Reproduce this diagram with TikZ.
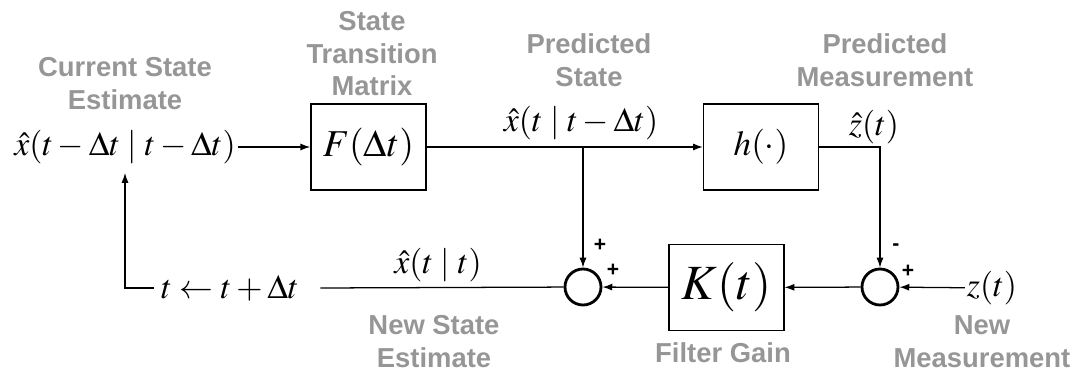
\documentclass[tikz,border=0pt]{standalone}
\usepackage{mathptmx}
\usepackage[no-math]{fontspec}
\newfontfamily\lblfont{Liberation Sans}
\usetikzlibrary{arrows.meta,positioning}
\definecolor{lblgray}{RGB}{150,150,150}

\begin{document}
\begin{tikzpicture}[
    >={Latex[length=7pt,width=5pt]},
    lbl/.style={text=lblgray, font=\lblfont\bfseries\fontsize{19.5}{23.4}\selectfont, align=center, inner sep=0pt},
    sig/.style={font=\fontsize{24}{26}\selectfont, inner sep=1pt},
    blk/.style={draw, line width=0.9pt, minimum width=2.875cm, minimum height=2.15cm},
    sumpt/.style={draw, circle, line width=2pt, minimum size=0.9cm, inner sep=0pt},
    sgn/.style={font=\lblfont\bfseries\fontsize{15}{15}\selectfont, inner sep=0pt},
    line width=0.9pt]
  \useasboundingbox (0,0) rectangle (27.15,9.5);

  % Top row: estimate, F, h
  \node[sig] (cur) at (3.125, 5.825) {$\hat{x}(t-\Delta t\mid t-\Delta t)$};
  \node[lbl] (curlbl) at (3.125, 7.41) {Current State\\Estimate};
  \node[blk, font=\fontsize{27}{30}\selectfont] (fbox) at (9.21, 5.825) {$F(\Delta t)$};
  \node[lbl] (flbl) at (9.3, 8.16) {State\\Transition\\Matrix};
  \node[blk, font=\fontsize{25}{28}\selectfont] (hbox) at (19.025, 5.825) {$h(\cdot)$};
  \node[sig] (pred) at (14.525, 6.425) {$\hat{x}(t\mid t-\Delta t)$};
  \node[lbl] (predlbl) at (14.725, 7.99) {Predicted\\State};
  \node[sig] (zhat) at (21.85, 6.325) {$\hat{z}(t)$};
  \node[lbl] (zhatlbl) at (22.125, 7.99) {Predicted\\Measurement};

  % Bottom row: update, sums, gain, measurement
  \node[sumpt] (sum1) at (14.575, 2.325) {};
  \node[sumpt] (sum2) at (22.0, 2.325) {};
  \node[blk, font=\fontsize{35}{38}\selectfont] (kbox) at (18.16, 2.31) {$K(t)$};
  \node[lbl] (klbl) at (18.075, 0.675) {Filter Gain};
  \node[sig] (meas) at (24.8, 2.3) {$z(t)$};
  \node[lbl] (measlbl) at (24.55, 0.95) {New\\Measurement};
  \node[sig, inner xsep=5pt] (upd) at (5.75, 2.3) {$t\leftarrow t+\Delta t$};
  \node[sig] (newx) at (10.95, 2.875) {$\hat{x}(t\mid t)$};
  \node[lbl] (newlbl) at (10.85, 0.95) {New State\\Estimate};

  % Signs
  \node[sgn] (p1a) at (15.0, 3.375) {+};
  \node[sgn] (p1b) at (15.325, 2.75) {+};
  \node[sgn] (m2a) at (22.4, 3.325) {-};
  \node[sgn] (p2b) at (22.7, 2.725) {+};

  % Connectors
  \coordinate (br1) at (sum1 |- hbox.west);
  \draw[->] (cur) -- (fbox);
  \draw[->] (fbox) -- (hbox);
  \draw[->] (br1) -- (sum1);
  \draw[->] (hbox.east) -| (sum2.north);
  \draw[->] (meas) -- (sum2);
  \draw[->] (sum2) -- (kbox);
  \draw[->] (kbox) -- (sum1);
  \draw (sum1) -- ([xshift=10pt]upd.east);
  \draw[->] (upd.west) -| ([yshift=-5pt]cur.south);
\end{tikzpicture}
\end{document}
